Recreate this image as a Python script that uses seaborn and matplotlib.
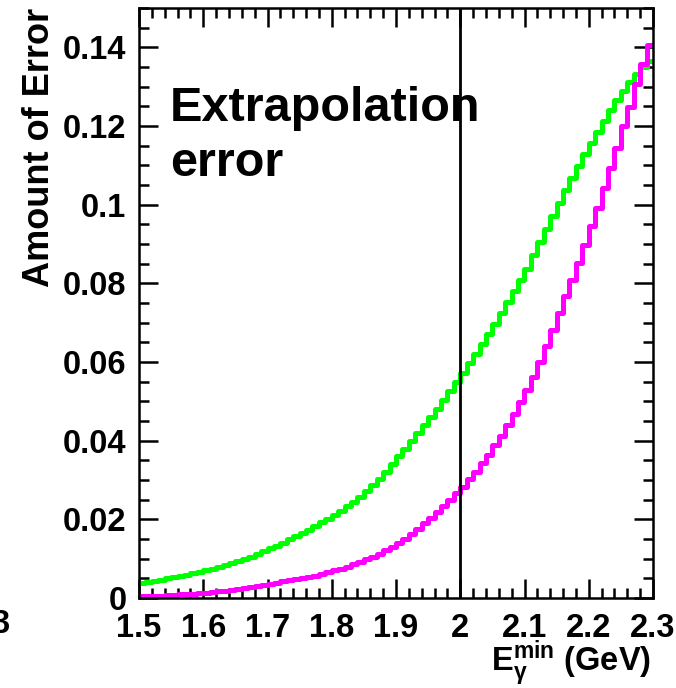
import numpy as np
import pandas as pd
import seaborn as sns
import matplotlib
matplotlib.use("Agg")
import matplotlib.pyplot as plt
from matplotlib.ticker import MultipleLocator, FuncFormatter

# ---- data (80 bins of width 0.01 from 1.5 to 2.3) ----
x_min, x_max, n_bins = 1.5, 2.3, 80

green_vals = [
    0.0038, 0.0041, 0.0044, 0.0047, 0.0050, 0.0053, 0.0056, 0.0059, 0.0063, 0.0067,
    0.0071, 0.0075, 0.0079, 0.0084, 0.0088, 0.0093, 0.0099, 0.0105, 0.0112, 0.0119,
    0.0126, 0.0133, 0.0141, 0.0149, 0.0157, 0.0165, 0.0174, 0.0183, 0.0192, 0.0201,
    0.0211, 0.0222, 0.0233, 0.0245, 0.0258, 0.0272, 0.0287, 0.0303, 0.0320, 0.0341,
    0.0362, 0.0380, 0.0399, 0.0419, 0.0440, 0.0460, 0.0481, 0.0503, 0.0526, 0.0549,
    0.0573, 0.0597, 0.0621, 0.0646, 0.0671, 0.0697, 0.0724, 0.0752, 0.0780, 0.0808,
    0.0837, 0.0872, 0.0905, 0.0937, 0.0970, 0.1004, 0.1037, 0.1068, 0.1099, 0.1129,
    0.1157, 0.1185, 0.1213, 0.1240, 0.1265, 0.1289, 0.1311, 0.1332, 0.1350, 0.1365,
]

magenta_vals = [
    0.0004, 0.0005, 0.0005, 0.0006, 0.0007, 0.0008, 0.0009, 0.0010, 0.0011, 0.0012,
    0.0013, 0.0015, 0.0017, 0.0019, 0.0021, 0.0023, 0.0025, 0.0028, 0.0030, 0.0033,
    0.0036, 0.0039, 0.0042, 0.0045, 0.0048, 0.0051, 0.0054, 0.0057, 0.0061, 0.0065,
    0.0070, 0.0075, 0.0080, 0.0086, 0.0092, 0.0098, 0.0105, 0.0113, 0.0121, 0.0130,
    0.0139, 0.0151, 0.0163, 0.0176, 0.0190, 0.0204, 0.0219, 0.0234, 0.0250, 0.0266,
    0.0283, 0.0302, 0.0321, 0.0342, 0.0364, 0.0388, 0.0413, 0.0440, 0.0468, 0.0498,
    0.0529, 0.0563, 0.0600, 0.0640, 0.0682, 0.0725, 0.0767, 0.0809, 0.0852, 0.0898,
    0.0945, 0.0992, 0.1043, 0.1094, 0.1145, 0.1200, 0.1249, 0.1306, 0.1357, 0.1407,
]

cut_value = 2.0
x_ticks = [1.5, 1.6, 1.7, 1.8, 1.9, 2.0, 2.1, 2.2, 2.3]
y_ticks = [0, 0.02, 0.04, 0.06, 0.08, 0.10, 0.12, 0.14]
y_max = 0.150

# ---- build table ----
edges = np.linspace(x_min, x_max, n_bins + 1)
centers = 0.5 * (edges[:-1] + edges[1:])
df = pd.DataFrame({
    "E": np.concatenate([centers, centers]),
    "err": np.concatenate([green_vals, magenta_vals]),
    "series": ["green"] * n_bins + ["magenta"] * n_bins,
})

sns.set_style("ticks")
plt.rcParams["font.family"] = ["Liberation Sans", "DejaVu Sans"]
plt.rcParams["font.weight"] = "bold"
plt.rcParams["text.color"] = "black"
plt.rcParams["axes.labelcolor"] = "black"
plt.rcParams["xtick.color"] = "black"
plt.rcParams["ytick.color"] = "black"
plt.rcParams["mathtext.fontset"] = "custom"
plt.rcParams["mathtext.rm"] = "Liberation Sans:bold"
plt.rcParams["mathtext.bf"] = "Liberation Sans:bold"
plt.rcParams["mathtext.it"] = "Liberation Sans:bold"

fig = plt.figure(figsize=(6.76, 6.88), dpi=100)
ax = fig.add_axes([139 / 676, 1 - 598 / 688, (653 - 139) / 676, (598 - 8) / 688])

for name, col in [("green", "#00ff00"), ("magenta", "#ff00ff")]:
    sub = df[df["series"] == name]
    sns.histplot(data=sub, x="E", weights="err", bins=list(edges), element="step",
                 fill=False, color=col, linewidth=3.6, ax=ax)

ax.axvline(cut_value, color="black", linewidth=2.0, zorder=5)

ax.set_xlim(x_min, x_max)
ax.set_ylim(0, y_max)
ax.set_xticks(x_ticks)
ax.set_yticks(y_ticks)
ax.xaxis.set_minor_locator(MultipleLocator(0.02))
ax.yaxis.set_minor_locator(MultipleLocator(0.005))
fmt = FuncFormatter(lambda v, p: "%g" % round(v, 4))
ax.xaxis.set_major_formatter(fmt)
ax.yaxis.set_major_formatter(fmt)

ax.tick_params(axis="both", which="both", direction="in", top=True, right=True,
               color="black", labelcolor="black", width=1.8)
ax.tick_params(axis="both", which="major", length=14, labelsize=23.5)
ax.tick_params(axis="both", which="minor", length=7)
ax.tick_params(axis="x", which="major", pad=11)
ax.tick_params(axis="y", which="major", pad=9)
for lab in ax.get_xticklabels() + ax.get_yticklabels():
    lab.set_fontweight("bold")

for sp in ax.spines.values():
    sp.set_visible(True)
    sp.set_color("black")
    sp.set_linewidth(1.8)

ax.set_xlabel("")
ax.set_ylabel("")

fig.text(170 / 676, 1 - 86 / 688, "Extrapolation\nerror", fontsize=35,
         fontweight="bold", ha="left", va="top", linespacing=1.28)

fig.text(40 / 676, 1 - 8 / 688, "Amount of Error", rotation=90, fontsize=26,
         fontweight="bold", ha="center", va="top")

fig.text(651 / 676, 1 - 671 / 688, r"$\mathbf{E}_{\gamma}^{\mathbf{min}}$ (GeV)",
         fontsize=23.5, fontweight="bold", ha="right", va="baseline")

fig.text(9 / 676, 1 - 633 / 688, "3", fontsize=23.5, fontweight="bold",
         ha="right", va="baseline")

fig.savefig("out.png", dpi=100, facecolor="white")
